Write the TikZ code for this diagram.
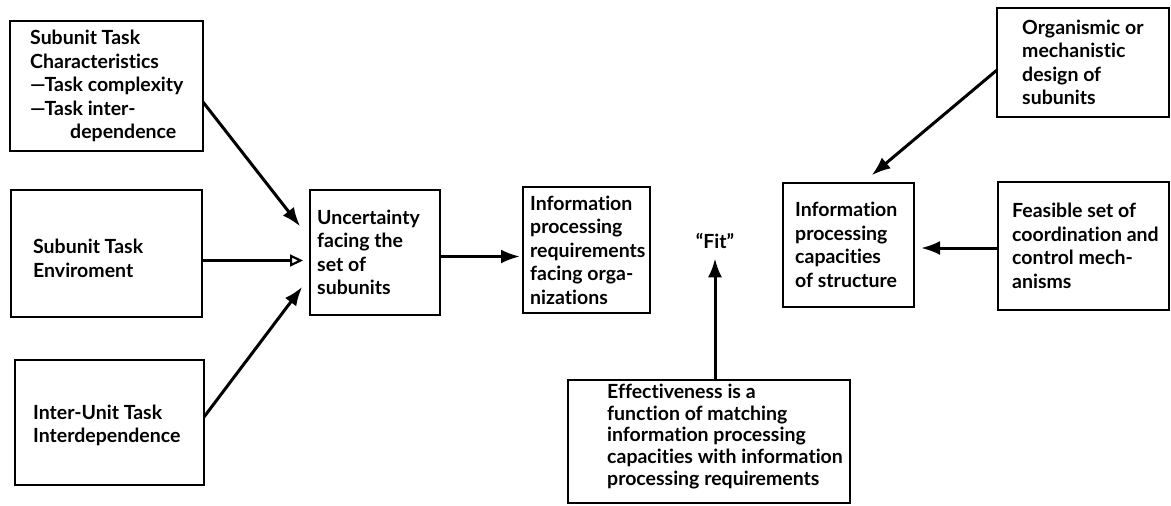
\documentclass[tikz,border=0pt]{standalone}
\usepackage{fontspec}
\setmainfont{Lato}[Ligatures=NoCommon]
\usetikzlibrary{arrows.meta}
\begin{document}
\begin{tikzpicture}[x=1pt,y=-1pt,
  box/.style={draw, line width=2.8pt, anchor=north west, inner sep=0pt, outer sep=0pt},
  txt/.style={anchor=west, align=left, inner sep=0pt,
    font=\bfseries\fontsize{19.5}{23.5}\selectfont},
  arr/.style={line width=3pt, -{Latex[length=19pt,width=14pt]}},
  oarr/.style={line width=2.8pt, -{Triangle[open,length=13pt,width=12pt,line width=2.2pt]}}]

% canvas
\path[use as bounding box, fill=white] (0,0) rectangle (1171,506);

% boxes on the left
\node[box, minimum width=193pt, minimum height=130pt] (a) at (10,21) {};
\node[txt] (ta) at ([xshift=20pt]a.west)
  {Subunit Task\\Characteristics\\—Task complexity\\—Task inter-\\\hspace*{40pt}dependence};

\node[box, minimum width=191pt, minimum height=127pt] (b) at (11,190) {};
\node[txt] (tb) at ([xshift=22pt,yshift=-5pt]b.west) {Subunit Task\\Enviroment};

\node[box, minimum width=189pt, minimum height=125pt] (c) at (15,360) {};
\node[txt] (tc) at ([xshift=18pt,yshift=-3pt]c.west) {Inter-Unit Task\\Interdependence};

% middle chain
\node[box, minimum width=130pt, minimum height=125pt] (d) at (310,190) {};
\node[txt] (td) at ([xshift=7pt]d.west) {Uncertainty\\facing the\\set of\\subunits};

\node[box, minimum width=127pt, minimum height=126pt] (e) at (523,187) {};
\node[txt] (te) at ([xshift=7pt]e.west)
  {Information\\processing\\requirements\\facing orga-\\nizations};

\node[txt, anchor=base] (fit) at (715,248) {“Fit”};

\node[box, minimum width=131pt, minimum height=124pt] (f) at (783,183) {};
\node[txt] (tf) at ([xshift=12pt]f.west)
  {Information\\processing\\capacities\\of structure};

% boxes on the right
\node[box, minimum width=172pt, minimum height=109pt] (g) at (997,8) {};
\node[txt] (tg) at ([xshift=25pt]g.west)
  {Organismic or\\mechanistic\\design of\\subunits};

\node[box, minimum width=171pt, minimum height=128pt] (h) at (998,182) {};
\node[txt] (th) at ([xshift=14pt]h.west)
  {Feasible set of\\coordination and\\control mech-\\anisms};

% bottom box
\node[box, minimum width=282pt, minimum height=123pt] (i) at (568,380) {};
\node[txt, font=\bfseries\fontsize{19.5}{21.7}\selectfont] (ti) at ([xshift=39pt,yshift=5pt]i.west)
  {Effectiveness is a\\function of matching\\information processing\\capacities with information\\processing requirements};

% connectors
\draw[arr, shorten >=16pt] ([yshift=-16pt]a.east) -- ([yshift=13.5pt]d.west);
\draw[oarr, shorten >=7pt] ([yshift=-7pt]b.east) -- ([yshift=-7pt]b.east -| d.west);
\draw[arr, shorten >=13pt] ([yshift=5.5pt]c.east) -- ([yshift=-24pt]d.west);
\draw[arr, shorten >=3pt] ([yshift=-4pt]d.east) -- ([yshift=-4pt]d.east -| e.west);
\draw[arr, shorten >=12pt] ([yshift=-7.5pt]g.west) -- ([xshift=14pt]f.north);
\draw[arr, shorten >=7pt] ([yshift=-2pt]h.west) -- ([yshift=-2pt]h.west -| f.east);
\draw[arr, shorten >=10pt] (i.north -| fit) -- (fit.south);
\end{tikzpicture}
\end{document}
